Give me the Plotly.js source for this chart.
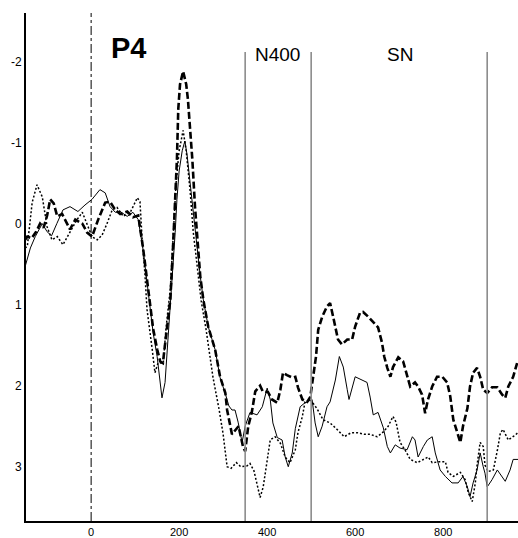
<!DOCTYPE html>
<html>
<head>
<meta charset="utf-8">
<script src="https://cdn.plot.ly/plotly-3.0.1.min.js"></script>
<style>html,body{margin:0;padding:0;background:#fff;}#chart{width:518px;height:538px;}</style>
</head>
<body>
<div id="chart"></div>
<script>
// Time (ms) / amplitude (µV) pairs
const dashedPts = [[-150,0.2],[-145,0.16],[-135,0.18],[-125,0.1],[-116,0.0],[-108,0.05],[-100,-0.1],[-93,-0.3],[-85,-0.25],[-77,-0.09],[-66,-0.12],[-55,0.0],[-48,0.07],[-36,-0.05],[-20,0.0],[-9,0.11],[2,0.16],[16,-0.05],[32,-0.26],[43,-0.27],[55,-0.17],[66,-0.12],[82,-0.15],[95,-0.08],[107,-0.1],[118,0.3],[127,0.7],[134,1.0],[141,1.3],[150,1.55],[157,1.7],[163,1.72],[168,1.5],[175,1.2],[180,0.94],[186,0.3],[191,-0.3],[195,-0.8],[198,-1.41],[202,-1.72],[209,-1.88],[216,-1.72],[220,-1.53],[225,-1.16],[230,-0.79],[236,-0.21],[241,0.11],[248,0.65],[255,0.94],[266,1.27],[282,1.56],[293,1.89],[305,2.09],[309,2.3],[320,2.6],[335,2.5],[345,2.75],[350,2.81],[357,2.5],[365,2.33],[373,2.07],[384,2.0],[390,2.07],[402,2.08],[411,2.17],[423,2.21],[430,2.05],[436,1.84],[445,1.87],[457,1.9],[464,1.89],[470,2.02],[480,2.17],[491,2.2],[498,2.14],[505,1.84],[511,1.64],[516,1.31],[525,1.15],[536,1.02],[543,0.98],[550,1.15],[557,1.31],[561,1.43],[570,1.49],[582,1.43],[593,1.43],[600,1.27],[611,1.1],[618,1.09],[630,1.15],[641,1.21],[652,1.28],[661,1.47],[666,1.64],[673,1.78],[680,1.89],[686,1.77],[698,1.65],[709,1.7],[718,1.86],[725,2.01],[736,1.96],[743,2.01],[752,2.11],[759,2.34],[765,2.18],[775,2.01],[786,1.89],[798,1.89],[809,1.96],[816,2.13],[823,2.42],[832,2.58],[839,2.7],[845,2.5],[855,2.28],[861,2.01],[868,1.84],[877,1.78],[884,1.89],[891,2.05],[900,2.09],[911,2.02],[923,2.02],[934,2.11],[941,2.15],[948,2.01],[959,1.89],[968,1.72]];

const solidPts = [[-150,0.53],[-138,0.3],[-127,0.16],[-111,0.0],[-100,0.1],[-90,0.15],[-78,0.0],[-64,-0.17],[-48,-0.21],[-30,-0.15],[-14,-0.23],[2,-0.3],[20,-0.42],[32,-0.38],[43,-0.21],[55,-0.14],[66,-0.15],[82,-0.09],[95,-0.14],[107,-0.05],[118,0.32],[127,0.73],[134,1.06],[141,1.35],[150,1.64],[157,1.93],[161,2.15],[168,1.96],[175,1.43],[180,1.06],[186,0.53],[191,0.11],[195,-0.3],[200,-0.65],[207,-0.9],[213,-1.02],[218,-0.85],[225,-0.5],[232,-0.1],[241,0.3],[248,0.65],[255,0.94],[266,1.27],[282,1.56],[293,1.9],[305,2.1],[313,2.25],[320,2.3],[327,2.3],[334,2.45],[343,2.7],[350,2.5],[361,2.33],[377,2.36],[389,2.26],[400,2.03],[407,2.17],[413,2.46],[423,2.64],[434,2.67],[441,2.88],[448,3.0],[457,2.83],[464,2.53],[475,2.26],[486,2.21],[502,2.17],[509,2.46],[516,2.63],[525,2.5],[536,2.26],[543,2.2],[555,1.93],[564,1.64],[573,1.77],[582,2.05],[586,2.17],[600,1.89],[616,1.93],[627,1.96],[634,2.14],[641,2.36],[652,2.33],[664,2.52],[673,2.75],[680,2.83],[691,2.73],[702,2.77],[718,2.79],[730,2.63],[736,2.67],[743,2.88],[755,2.75],[764,2.67],[775,2.63],[782,2.83],[793,3.04],[805,3.12],[820,3.2],[834,3.2],[845,3.12],[855,3.25],[861,3.37],[868,3.2],[877,3.04],[884,2.83],[891,3.0],[895,3.08],[900,3.25],[911,3.16],[923,3.04],[934,3.12],[941,3.18],[952,3.04],[959,2.91],[970,2.91]];

const dottedPts = [[-150,0.3],[-145,0.28],[-134,-0.26],[-123,-0.48],[-111,-0.33],[-100,0.04],[-89,0.2],[-77,0.16],[-64,0.26],[-48,0.11],[-32,-0.05],[-20,-0.14],[-9,0.0],[2,0.16],[14,0.2],[25,0.14],[36,0.0],[48,-0.17],[59,-0.2],[73,-0.09],[89,-0.14],[105,-0.32],[111,-0.27],[116,0.2],[122,0.6],[127,1.06],[139,1.56],[145,1.84],[152,1.72],[164,1.72],[170,1.3],[180,0.8],[186,0.2],[193,-0.5],[200,-0.9],[209,-1.15],[216,-0.9],[225,-0.4],[232,0.1],[241,0.5],[250,0.95],[261,1.3],[277,1.9],[291,2.3],[300,2.6],[309,3.0],[318,3.02],[330,2.95],[340,3.0],[354,2.99],[361,2.96],[370,3.05],[384,3.38],[391,3.25],[400,2.91],[407,2.67],[418,2.63],[430,2.71],[441,2.88],[452,2.95],[464,2.79],[470,2.58],[480,2.38],[486,2.2],[498,2.17],[514,2.29],[527,2.42],[543,2.46],[559,2.54],[575,2.63],[591,2.58],[605,2.58],[620,2.6],[634,2.6],[650,2.63],[664,2.57],[675,2.5],[686,2.38],[693,2.45],[702,2.7],[714,2.8],[725,2.91],[741,2.95],[755,2.91],[766,2.88],[775,2.95],[789,2.94],[805,2.94],[811,3.07],[823,3.12],[839,3.07],[850,3.16],[857,3.32],[866,3.43],[873,3.2],[877,2.98],[884,2.7],[891,2.75],[895,2.98],[902,3.06],[914,3.04],[923,2.8],[930,2.58],[936,2.54],[948,2.67],[961,2.62],[970,2.58]];

const xTicks = [0, 200, 400, 600, 800];
const yTicks = [-2, -1, 0, 1, 2, 3];
const windowBounds = [350, 500, 900];
const windowLabels = ["N400", "SN"];
const windowLabelTimes = [423, 702];
const electrode = "P4";

const mk = (pts, line) => ({
  type: 'scatter', mode: 'lines',
  x: pts.map(p => p[0]), y: pts.map(p => p[1]),
  line: line, hoverinfo: 'skip', showlegend: false
});

const data = [
  mk(dottedPts, {color: '#000', width: 1.5, dash: '2px,2px'}),
  mk(solidPts, {color: '#000', width: 1}),
  mk(dashedPts, {color: '#000', width: 2.6, dash: '7px,3px'})
];

const shapes = [
  {type: 'line', xref: 'x', yref: 'paper', x0: 0, x1: 0, y0: 0, y1: 1,
   line: {color: '#000', width: 1, dash: 'dashdot'}}
].concat(windowBounds.map(t => ({
  type: 'line', xref: 'x', yref: 'paper', x0: t, x1: t, y0: 0, y1: 0.923,
  line: {color: '#8c8c8c', width: 1.6}
})));

const annotations = [
  {text: electrode, x: 84, y: -2.17, xref: 'x', yref: 'y', showarrow: false,
   font: {family: 'Liberation Sans, Arial, sans-serif', size: 29, color: '#000', weight: 'bold'}}
].concat(windowLabels.map((s, i) => ({
  text: s, x: windowLabelTimes[i], y: -2.09, xref: 'x', yref: 'y', showarrow: false,
  font: {family: 'Liberation Sans, Arial, sans-serif', size: 19, color: '#000'}
})));

const layout = {
  width: 518, height: 538,
  margin: {l: 26, r: 0, t: 13, b: 17, pad: 0},
  paper_bgcolor: '#fff', plot_bgcolor: '#fff',
  showlegend: false,
  xaxis: {range: [-148, 970], tickvals: xTicks, ticktext: xTicks.map(String),
    showgrid: false, zeroline: false, showline: true, linecolor: '#000', linewidth: 2,
    ticks: '', ticklabelstandoff: 0,
    tickfont: {family: 'Liberation Sans, Arial, sans-serif', size: 11, color: '#000'}},
  yaxis: {range: [3.67, -2.6], tickvals: yTicks, ticktext: yTicks.map(String),
    showgrid: false, zeroline: false, showline: true, linecolor: '#000', linewidth: 2,
    ticks: '', tickfont: {family: 'Liberation Sans, Arial, sans-serif', size: 12, color: '#000'}},
  shapes: shapes,
  annotations: annotations
};

Plotly.newPlot('chart', data, layout, {displayModeBar: false, staticPlot: true});
</script>
</body>
</html>
